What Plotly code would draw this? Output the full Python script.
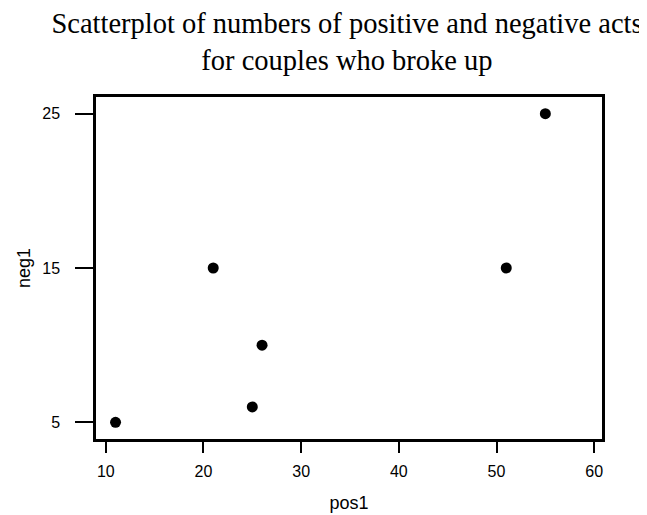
import plotly.graph_objects as go

pos1 = [11, 21, 25, 26, 51, 55]
neg1 = [5, 15, 6, 10, 15, 25]
x_ticks = [10, 20, 30, 40, 50, 60]
y_ticks = [5, 15, 25]

# page body has an 8px default margin; figure is sized/offset to compensate
W, H = 639, 507

fig = go.Figure()
fig.add_trace(go.Scatter(
    x=pos1, y=neg1, mode="markers",
    marker=dict(color="black", size=11, line=dict(width=0)),
    showlegend=False,
))

fig.update_layout(
    width=W, height=H,
    paper_bgcolor="white", plot_bgcolor="white",
    margin=dict(l=88, r=45, t=89, b=76, autoexpand=False),
    title=dict(
        text="Scatterplot of numbers of positive and negative acts<br>for couples who broke up",
        x=339 / W, xanchor="center", xref="container",
        y=1 - 25 / H, yanchor="middle", yref="container",
        font=dict(family="Liberation Serif, Times New Roman, serif", size=28.5, color="black"),
    ),
    font=dict(family="Liberation Sans, Arial, sans-serif", size=16, color="black"),
)
fig.update_xaxes(
    range=[9.0, 60.8], tickvals=x_ticks, ticktext=[str(v) for v in x_ticks],
    showgrid=False, zeroline=False, automargin=False,
    showline=True, linecolor="black", linewidth=2.5, mirror=True,
    ticks="outside", ticklen=11, tickwidth=2, tickcolor="black",
    tickfont=dict(size=16), ticklabelstandoff=5,
    title=dict(text="pos1", font=dict(size=18), standoff=18),
)
fig.update_yaxes(
    range=[3.92, 26.08], tickvals=y_ticks, ticktext=[str(v) for v in y_ticks],
    showgrid=False, zeroline=False, automargin=False,
    showline=True, linecolor="black", linewidth=2.5, mirror=True,
    ticks="outside", ticklen=18, tickwidth=2, tickcolor="black",
    tickfont=dict(size=16), ticklabelstandoff=12,
    title=dict(text="neg1", font=dict(size=18), standoff=7),
)

fig.write_html("out.html")
